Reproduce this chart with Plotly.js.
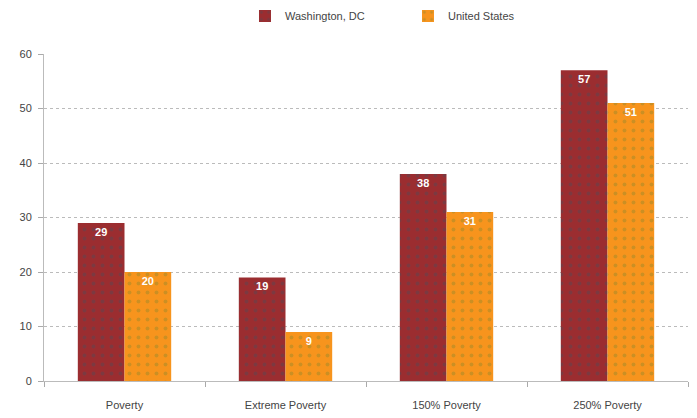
<!DOCTYPE html>
<html>
<head>
<meta charset="utf-8">
<script src="https://cdn.plot.ly/plotly-3.0.1.min.js"></script>
<style>html,body{margin:0;padding:0;background:#fff;}#chart{width:697px;height:418px;}</style>
</head>
<body>
<div id="chart"></div>
<script>
var categories = ["Poverty", "Extreme Poverty", "150% Poverty", "250% Poverty"];
var washingtonDC = [29, 19, 38, 57];
var unitedStates = [20, 9, 31, 51];
var seriesNames = ["Washington, DC", "United States"];
var yTicks = [0, 10, 20, 30, 40, 50, 60];

var traces = [
  {
    type: "bar", name: seriesNames[0], x: categories, y: washingtonDC,
    text: washingtonDC.map(String), textposition: "inside", insidetextanchor: "end",
    textfont: {color: "#ffffff", size: 11, family: "Liberation Sans", weight: "bold"},
    marker: {color: "#9B2D30", line: {width: 0},
      pattern: {shape: ".", fgcolor: "#5e4550", size: 9, solidity: 0.15, fillmode: "overlay"}}
  },
  {
    type: "bar", name: seriesNames[1], x: categories, y: unitedStates,
    text: unitedStates.map(String), textposition: "inside", insidetextanchor: "end",
    textfont: {color: "#ffffff", size: 11, family: "Liberation Sans", weight: "bold"},
    marker: {color: "#F7941D", line: {width: 0},
      pattern: {shape: ".", fgcolor: "#a08a2a", size: 9, solidity: 0.15, fillmode: "overlay"}}
  }
];

var layout = {
  width: 697, height: 418,
  margin: {l: 44, r: 9, t: 54, b: 37},
  paper_bgcolor: "#ffffff", plot_bgcolor: "#ffffff",
  font: {family: "Liberation Sans, Arial, sans-serif", size: 11, color: "#444444"},
  barmode: "group", bargap: 0.42, bargroupgap: 0,
  showlegend: true,
  legend: {orientation: "h", x: 0.3515, xanchor: "left", xref: "container",
    y: 0.962, yanchor: "middle", yref: "container",
    font: {size: 11, color: "#444444"}, traceorder: "normal",
    entrywidth: 118, entrywidthmode: "pixels", itemwidth: 30},
  xaxis: {
    type: "category", tickson: "boundaries", ticks: "outside", ticklen: 5, tickcolor: "#aaaaaa",
    showgrid: false, showline: true, linecolor: "#bbbbbb", linewidth: 1,
    ticklabelstandoff: 14,
    tickfont: {size: 11, color: "#444444"}, fixedrange: true
  },
  yaxis: {
    range: [0, 60], tickvals: yTicks, ticks: "outside", ticklen: 5, tickcolor: "#aaaaaa",
    showgrid: true, gridcolor: "#bbbbbb", griddash: "dot", gridwidth: 1,
    showline: true, linecolor: "#bbbbbb", zeroline: false, ticklabelstandoff: 4,
    tickfont: {size: 11, color: "#444444"}, fixedrange: true
  }
};

Plotly.newPlot("chart", traces, layout, {displayModeBar: false, staticPlot: true});
</script>
</body>
</html>
